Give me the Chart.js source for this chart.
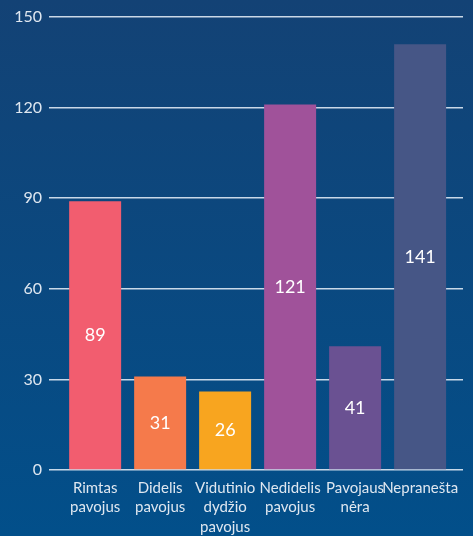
<!DOCTYPE html>
<html>
<head>
<meta charset="utf-8">
<script src="https://cdn.jsdelivr.net/npm/chart.js@4"></script>
<style>
  html, body { margin: 0; padding: 0; background: #0b4a80; }
  #wrap { width: 473px; height: 536px; position: relative; }
</style>
</head>
<body>
<div id="wrap"><canvas id="myCanvas"></canvas></div>
<script>
var labels = [
    ["Rimtas", "pavojus"],
    ["Didelis", "pavojus"],
    ["Vidutinio", "dydžio", "pavojus"],
    ["Nedidelis", "pavojus"],
    ["Pavojaus", "nėra"],
    ["Nepranešta"]
];
var values = [89, 31, 26, 121, 41, 141];
var colors = ['#f25d6f', '#f57a4b', '#f8a51f', '#a0529a', '#6a5192', '#465686'];
var yTicks = [0, 30, 60, 90, 120, 150];

var fontFamily = "Lato, 'Open Sans', sans-serif";
var gridColor = 'rgba(235, 242, 250, 0.85)';

// background gradient behind the whole canvas
var bgPlugin = {
    id: 'bg',
    beforeDraw(chart) {
        var c = chart.ctx;
        var g = c.createLinearGradient(0, 0, 0, chart.height);
        g.addColorStop(0, '#134275');
        g.addColorStop(1, '#024f8a');
        c.save();
        c.fillStyle = g;
        c.fillRect(0, 0, chart.width, chart.height);
        c.restore();
    }
};

// values written in the middle of each bar
var valuePlugin = {
    id: 'values',
    afterDatasetsDraw(chart) {
        var c = chart.ctx;
        var meta = chart.getDatasetMeta(0);
        c.save();
        c.fillStyle = '#ffffff';
        c.font = '18px ' + fontFamily;
        c.textAlign = 'center';
        c.textBaseline = 'middle';
        meta.data.forEach(function (bar, i) {
            var mid = (bar.y + bar.base) / 2;
            c.fillText(String(values[i]), bar.x, mid);
        });
        c.restore();
    }
};

Chart.defaults.font.family = fontFamily;
Chart.defaults.font.size = 15;

var ctx = document.getElementById('myCanvas').getContext('2d');
var myChart = new Chart(ctx, {
    type: 'bar',
    data: {
        labels: labels,
        datasets: [{
            data: values,
            backgroundColor: colors,
            borderWidth: 0,
            barPercentage: 0.8,
            categoryPercentage: 1
        }]
    },
    plugins: [bgPlugin, valuePlugin],
    options: {
        responsive: true,
        maintainAspectRatio: false,
        animation: false,
        layout: { padding: { top: 17, left: 0, right: 10, bottom: 0 } },
        plugins: {
            legend: { display: false },
            tooltip: { enabled: false }
        },
        scales: {
            x: {
                offset: false,
                grid: { display: false },
                border: { display: false },
                ticks: {
                    color: '#dfe7f0',
                    maxRotation: 0,
                    autoSkip: false,
                    padding: 0,
                    font: { size: 15, lineHeight: 1.3 }
                },
                // a bit of empty room left and right of the bars, like the original
                afterBuildTicks(scale) {
                    scale._startValue = -0.71;
                    scale._valueRange = 6.37;
                },
                afterFit(scale) { scale.height = 66; }
            },
            y: {
                min: 0,
                max: 150,
                afterBuildTicks(scale) {
                    scale.ticks = yTicks.map(function (v) { return { value: v }; });
                },
                grid: {
                    color: gridColor,
                    lineWidth: 1.5,
                    drawTicks: false
                },
                border: { display: false },
                ticks: {
                    color: '#dfe7f0',
                    padding: 7,
                    font: { size: 16 }
                },
                afterFit(scale) { scale.width = 49; }
            }
        }
    }
});
</script>
</body>
</html>
